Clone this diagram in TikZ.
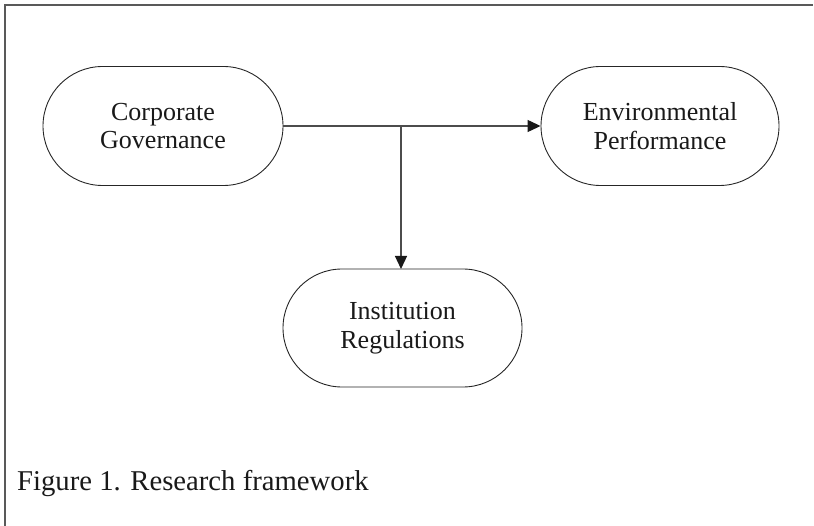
\documentclass[tikz,border=0pt]{standalone}
\usepackage{fontspec}
\setmainfont{Liberation Serif}
\usetikzlibrary{shapes.misc,arrows.meta}
\begin{document}
\begin{tikzpicture}[x=1bp,y=-1bp,
  box/.style={rounded rectangle, draw=black!85, line width=0.9bp, minimum width=240bp, minimum height=119bp, inner sep=0pt, align=center, font=\fontsize{26bp}{28.5bp}\selectfont, text=black!90},
  conn/.style={draw=black!70, line width=1.2bp},
  arr/.style={-{Triangle[length=13bp,width=12bp,color=black!90]}}]
\useasboundingbox (0,0) rectangle (814,526);
\draw[black!65, line width=1.6bp] (5,526) -- (5,5) -- (813,5);
\node[box] (cg) at (163,126) {Corporate\\Governance};
\node[box, minimum width=238bp] (ep) at (660,126) {Environmental\\Performance};
\node[box, minimum width=239bp, minimum height=118bp] (ir) at (402.5,328) {Institution\\Regulations};
\coordinate (j) at (401,126);
\coordinate (jt) at (401,269);
\draw[conn, arr] (cg.east) -- (ep.west);
\draw[conn, arr] (j) -- (jt);
\node[anchor=base west, font=\fontsize{28.7bp}{30bp}\selectfont, inner sep=0pt, text=black!90] (cap) at (17,490) {Figure 1. Research framework};
\end{tikzpicture}
\end{document}
